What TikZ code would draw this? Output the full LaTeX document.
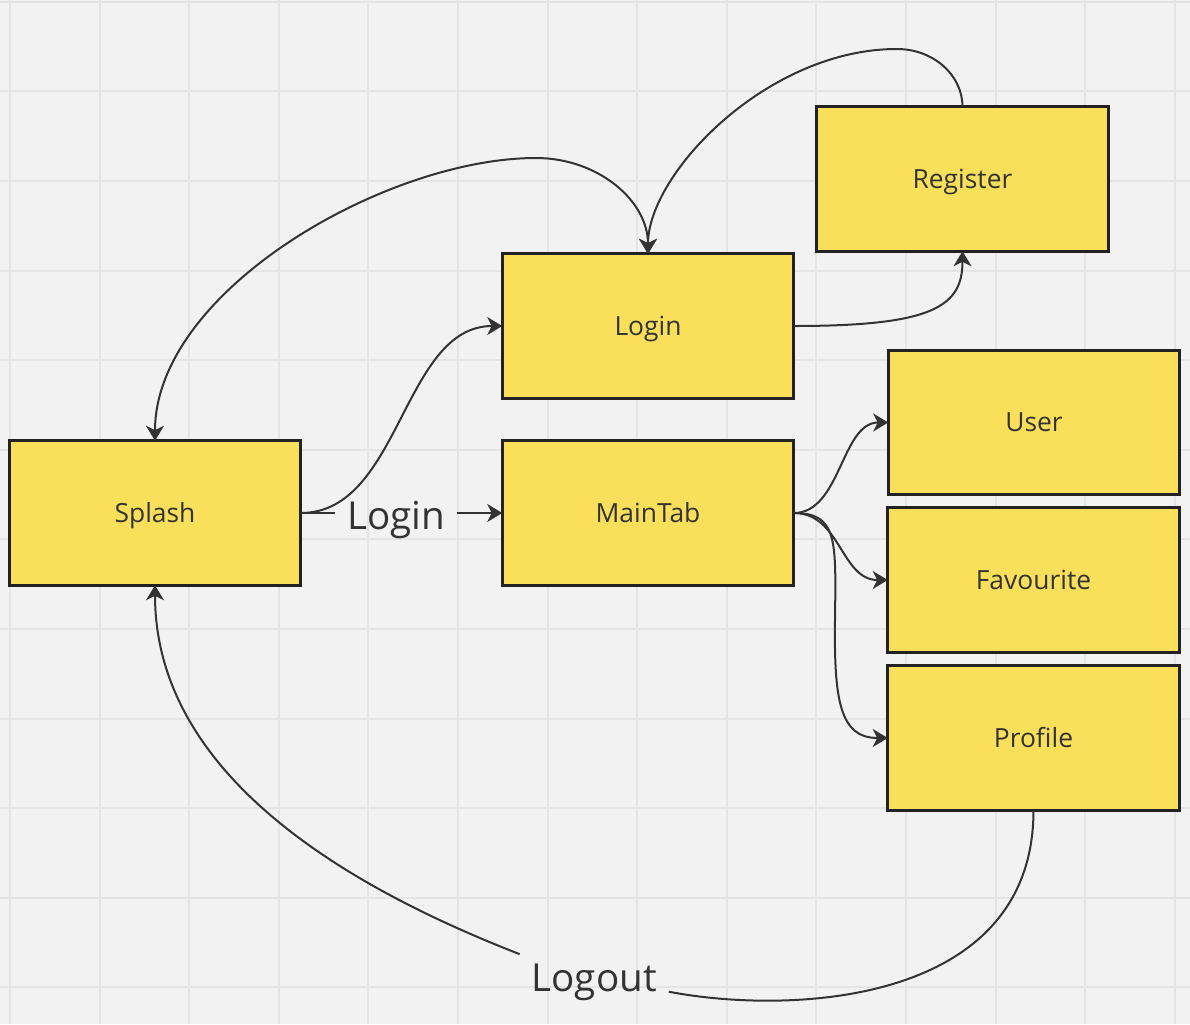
\documentclass[tikz,border=0pt]{standalone}
\usepackage{fontspec}
\setmainfont{Open Sans}
\usetikzlibrary{arrows.meta,calc}
\definecolor{bg}{HTML}{F2F2F2}
\definecolor{gridc}{HTML}{E4E4E4}
\definecolor{boxfill}{HTML}{F9DF5A}
\definecolor{boxline}{HTML}{222222}
\definecolor{linec}{HTML}{333333}
\definecolor{txt}{HTML}{333333}
\begin{document}
\begin{tikzpicture}[x=0.5pt,y=-0.5pt,
  screen/.style={draw=boxline, fill=boxfill, line width=1.3pt,
    minimum width=145.75pt, minimum height=72.25pt, inner sep=0pt, outer sep=0pt,
    text=txt, font=\fontsize{13.2}{16}\selectfont, text height=9.4pt, text depth=0pt},
  conn/.style={draw=linec, line width=1pt},
  arr/.style={-{Stealth[length=7.5pt,width=9pt,inset=2.2pt]}},
  biarr/.style={{Stealth[length=7.5pt,width=9pt,inset=2.2pt]}-{Stealth[length=7.5pt,width=9pt,inset=2.2pt]}},
  biglbl/.style={text=txt, font=\fontsize{19.3}{23}\selectfont, inner xsep=6pt, inner ysep=5pt, outer sep=0pt, anchor=base},
  gridline/.style={draw=gridc, line width=1pt}
]
\useasboundingbox (0,0) rectangle (1190,1024);
\fill[bg] (0,0) rectangle (1190,1024);
\foreach \i in {0,...,13} \draw[gridline] ({10+89.6*\i},0) -- ({10+89.6*\i},1024);
\foreach \j in {0,...,11} \draw[gridline] (0,{1.7+89.6*\j}) -- (1190,{1.7+89.6*\j});

% screens
\node[screen] (Register)  at (962.5,179)  {Register};
\node[screen] (Login)     at (648,326)    {Login};
\node[screen] (Splash)    at (155,513)    {Splash};
\node[screen] (MainTab)   at (648,513)    {MainTab};
\node[screen] (User)      at (1034,422.5) {User};
\node[screen] (Favourite) at (1033.5,580) {Favourite};
\node[screen] (Profile)   at (1033.5,738) {Profile};

% connector labels
\node[biglbl] (lgl) at (396,529.3) {Login};
\node[biglbl] (lgo) at (594.2,991.7) {Logout};

% Splash -> MainTab (labelled Login)
\draw[conn] (Splash.east) -- (Splash.east -| lgl.west);
\draw[conn,arr] (MainTab.west -| lgl.east) -- (MainTab.west);

% Splash -> Login
\draw[conn,arr] (Splash.east) .. controls +(100,0) and +(-100,0) .. (Login.west);

% Login -> Register
\draw[conn,arr] (Login.east) .. controls +(140,0) and +(0,55) .. (Register.south);

% Splash <-> Login (top)
\draw[conn,biarr] (Splash.north) .. controls +(0,-150) and (386,158) .. (536,158)
  .. controls +(62,0) and +(0,-53) .. (Login.north);

% Register -> Login (top)
\draw[conn,arr] (Register.north) .. controls +(0,-32) and +(36,0) .. (897,49)
  .. controls +(-130,0) and +(0,-80) .. (Login.north);

% MainTab -> tabs
\draw[conn,arr] (MainTab.east) .. controls +(47,0) and +(-47,0) .. (User.west);
\draw[conn,arr] (MainTab.east) .. controls +(47,0) and +(-47,0) .. (Favourite.west);
\draw[conn,arr] (MainTab.east) .. controls +(44,0) and (836,540) .. (835,620)
  .. controls (834,700) and +(-48,0) .. (Profile.west);

% Profile -> Splash (labelled Logout)
\draw[conn] (Profile.south) .. controls +(0,195) and (790,1015) .. (lgo.base east);
\draw[conn,arr] (lgo.north west) .. controls +(-150,-58.5) and +(0,200) .. (Splash.south);
\end{tikzpicture}
\end{document}
